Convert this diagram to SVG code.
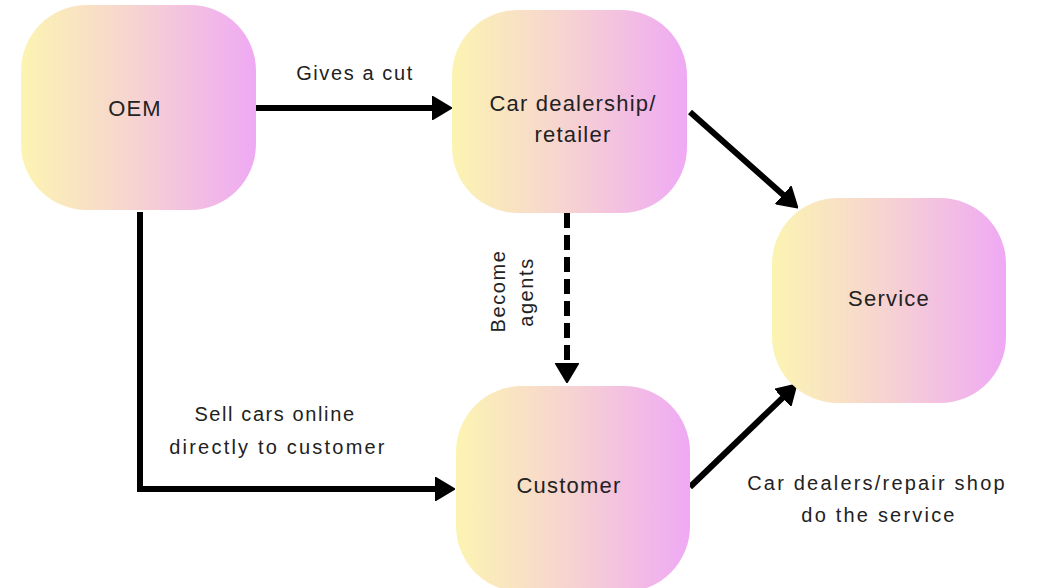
<svg xmlns="http://www.w3.org/2000/svg" width="1037" height="588" viewBox="0 0 1037 588">
  <style>
    .box { fill: url(#pastel); }
    .lbl { font-family: "Liberation Sans", Arial, sans-serif; fill: #222; text-anchor: middle; }
    .node { font-size: 22px; letter-spacing: 1.2px; }
    .edge { font-size: 20px; letter-spacing: 1.6px; }
    .wide { letter-spacing: 2.2px; }
    .link { fill: none; stroke: #000; stroke-width: 6; stroke-linejoin: miter; }
    .dash { stroke-dasharray: 15 7; }
  </style>
  <defs>
    <linearGradient id="pastel" x1="0" y1="0" x2="1" y2="0">
      <stop offset="0" stop-color="#fcf4b2"/>
      <stop offset="0.5" stop-color="#f6d2d2"/>
      <stop offset="1" stop-color="#efa9f4"/>
    </linearGradient>
    <marker id="head" viewBox="0 0 20 24" refX="9" refY="12" markerWidth="20" markerHeight="24" markerUnits="userSpaceOnUse" orient="auto">
      <path d="M0.5,0.5 L19.5,12 L0.5,23.5 z" fill="#000" stroke="#000" stroke-width="1.5" stroke-linejoin="round"/>
    </marker>
  </defs>

  <rect width="1037" height="588" fill="#fff"/>

  <!-- connectors -->
  <g id="connectors">
    <path class="link" d="M256,108 H441" marker-end="url(#head)"/>
    <path class="link" d="M690,112 L789.8,200.7" marker-end="url(#head)"/>
    <path class="link" d="M690,487 L789.1,391.6" marker-end="url(#head)"/>
    <path class="link" d="M140,212 V489 H444" marker-end="url(#head)"/>
    <path class="link dash" d="M567,213 V372" marker-end="url(#head)"/>
    <text class="lbl edge" x="355" y="80">Gives a cut</text>
    <text class="lbl edge" x="275" y="421">Sell cars online</text>
    <text class="lbl edge wide" x="278" y="454">directly to customer</text>
    <text class="lbl edge wide" x="877" y="490">Car dealers/repair shop</text>
    <text class="lbl edge wide" x="879" y="522">do the service</text>
    <text class="lbl edge" transform="translate(505,291) rotate(-90)">Become</text>
    <text class="lbl edge" transform="translate(533,292) rotate(-90)">agents</text>
  </g>

  <!-- nodes -->
  <g id="oem">
    <rect class="box" x="21" y="5" width="235" height="205" rx="66" ry="66"/>
    <text class="lbl node" x="135" y="116">OEM</text>
  </g>
  <g id="dealership">
    <rect class="box" x="452" y="10" width="235" height="203" rx="66" ry="66"/>
    <text class="lbl node" x="573" y="111">Car dealership/</text>
    <text class="lbl node" x="573" y="142">retailer</text>
  </g>
  <g id="service">
    <rect class="box" x="772" y="198" width="234" height="205" rx="66" ry="66"/>
    <text class="lbl node" x="889" y="306">Service</text>
  </g>
  <g id="customer">
    <rect class="box" x="456" y="386" width="234" height="206" rx="66" ry="66"/>
    <text class="lbl node" x="569" y="493">Customer</text>
  </g>
</svg>
